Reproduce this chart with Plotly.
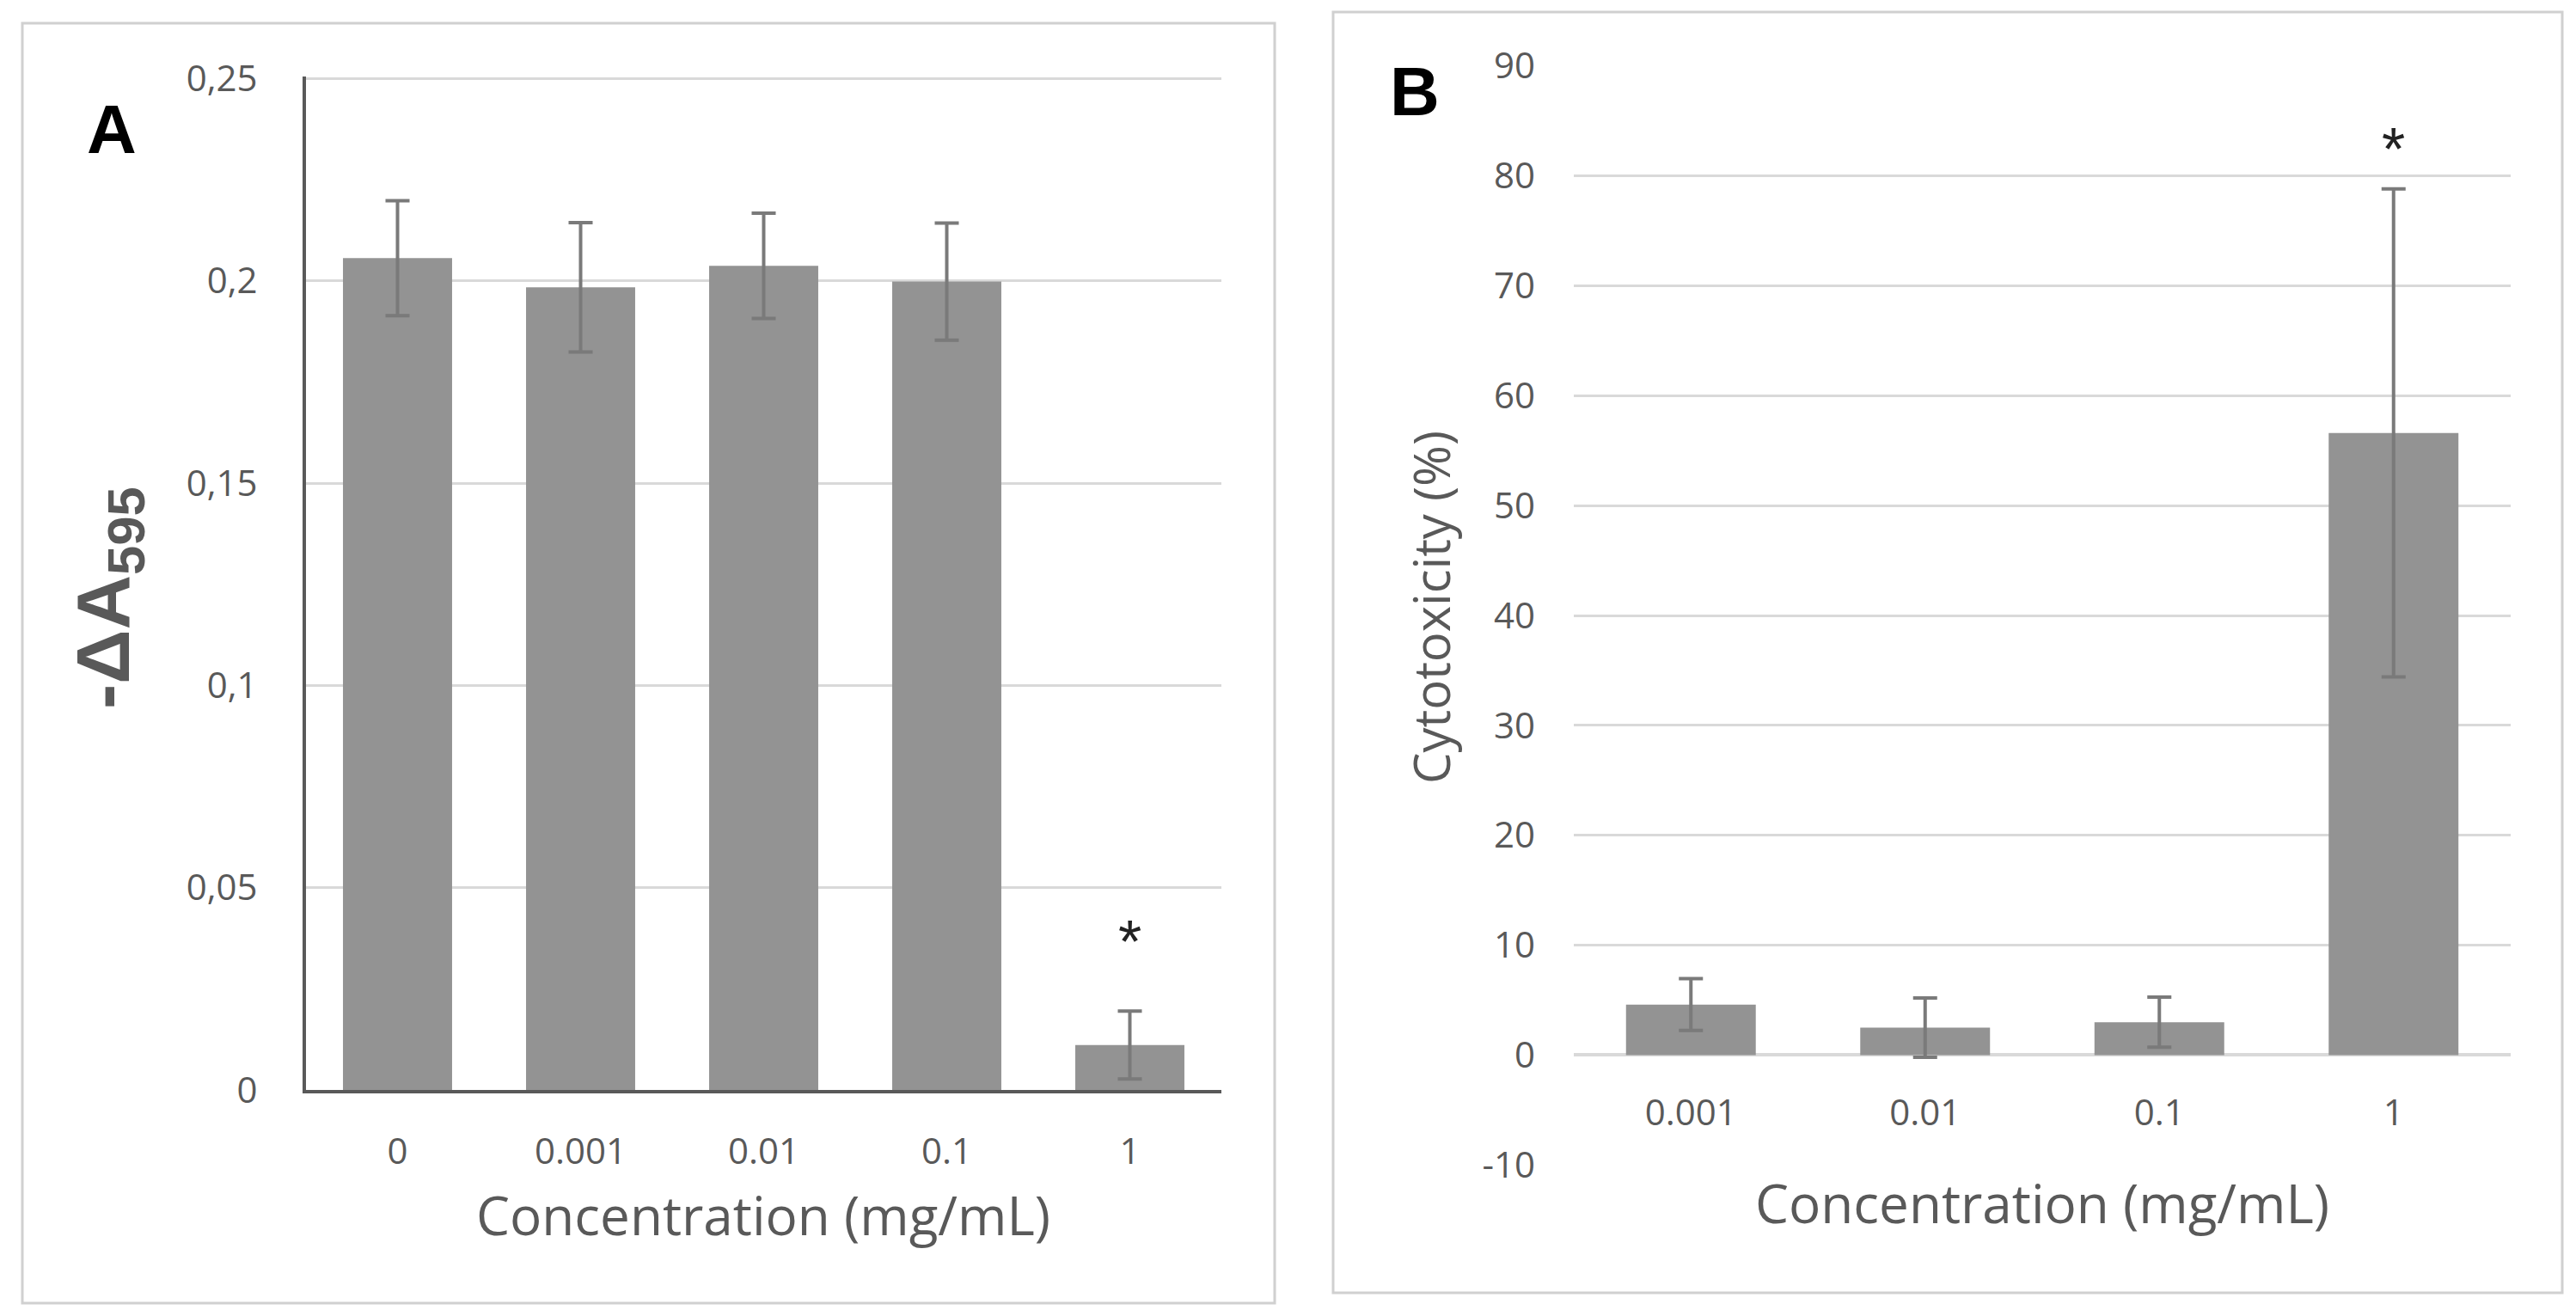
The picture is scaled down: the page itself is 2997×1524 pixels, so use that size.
import plotly.graph_objects as go

# ---------------- data ----------------
cats_A = ["0", "0.001", "0.01", "0.1", "1"]
vals_A = [0.2056, 0.1984, 0.2037, 0.1998, 0.0111]
err_A = [0.0142, 0.0160, 0.0130, 0.0145, 0.0084]
ticks_A = [0, 0.05, 0.1, 0.15, 0.2, 0.25]
ticktext_A = ["0", "0,05", "0,1", "0,15", "0,2", "0,25"]

cats_B = ["0.001", "0.01", "0.1", "1"]
vals_B = [4.6, 2.5, 3.0, 56.6]
err_B = [2.35, 2.7, 2.27, 22.2]
ticks_B = [-10, 0, 10, 20, 30, 40, 50, 60, 70, 80, 90]
ticktext_B = ["-10", "0", "10", "20", "30", "40", "50", "60", "70", "80", "90"]

W, H = 2997, 1524
def px(x):
    return x / W
def py(y):
    return 1 - y / H

BAR = "#939393"
ERR = "#7a7a7a"
GRID = "#d9d9d9"
TXT = "#595959"
FONT = "Open Sans"

fig = go.Figure()
fig.add_trace(go.Bar(x=cats_A, y=vals_A, width=0.596, marker=dict(color=BAR, line=dict(width=0)),
                     error_y=dict(type="data", array=err_A, visible=True, color=ERR, thickness=4, width=14),
                     xaxis="x", yaxis="y", showlegend=False, hoverinfo="skip"))
fig.add_trace(go.Bar(x=cats_B, y=vals_B, width=0.554, marker=dict(color=BAR, line=dict(width=0)),
                     error_y=dict(type="data", array=err_B, visible=True, color=ERR, thickness=4, width=14),
                     xaxis="x2", yaxis="y2", showlegend=False, hoverinfo="skip"))

tickfont = dict(family=FONT, size=42, color=TXT)

def ann(text, x, y, size, color=TXT, family=FONT, angle=0, xref="paper", yref="paper"):
    return dict(text=text, xref=xref, yref=yref, x=x, y=y, xanchor="center", yanchor="middle",
                showarrow=False, textangle=angle, font=dict(family=family, size=size, color=color))

fig.update_layout(
    template="none",
    width=W, height=H, margin=dict(l=0, r=0, t=0, b=0, pad=0), autosize=False,
    paper_bgcolor="white", plot_bgcolor="white", showlegend=False,
    xaxis=dict(domain=[px(348), px(1413)], anchor="y", type="category", automargin=False,
               showline=True, linecolor="#595959", linewidth=4, ticks="",
               showgrid=False, zeroline=False, tickfont=tickfont, ticklabelstandoff=32),
    yaxis=dict(domain=[py(1260), py(81)], anchor="x", range=[0, 0.2505], automargin=False,
               tickvals=ticks_A, ticktext=ticktext_A, showline=True, linecolor="#595959",
               linewidth=4, showgrid=True, gridcolor=GRID, gridwidth=3, zeroline=False,
               ticks="", tickfont=tickfont, ticklabelstandoff=44),
    xaxis2=dict(domain=[px(1823), px(2913)], anchor="free", position=py(1220), type="category",
                automargin=False, showline=False, ticks="", showgrid=False, zeroline=False,
                tickfont=tickfont, ticklabelstandoff=38),
    yaxis2=dict(domain=[py(1348), py(68)], anchor="x2", range=[-10.05, 90.05], automargin=False,
                tickvals=ticks_B, ticktext=ticktext_B, showline=False, showgrid=True,
                gridcolor=GRID, gridwidth=3, zeroline=True, zerolinecolor=GRID, zerolinewidth=4,
                ticks="", tickfont=tickfont, ticklabelstandoff=44),
    shapes=[
        dict(type="rect", xref="paper", yref="paper", x0=px(18), x1=px(1475), y0=py(1508), y1=py(19),
             line=dict(color="#d0d0d0", width=3), layer="below"),
        dict(type="rect", xref="paper", yref="paper", x0=px(1543), x1=px(2973), y0=py(1496), y1=py(6),
             line=dict(color="#d0d0d0", width=3), layer="below"),
    ],
    annotations=[
        ann("<b>A</b>", px(122), py(142), 80, "black", "Liberation Sans"),
        ann("<b>B</b>", px(1638), py(98), 80, "black", "Liberation Sans"),
        ann("<b>-ΔA<sub>595</sub></b>", px(118), py(688), 88, TXT, "Liberation Sans", -90),
        ann("Cytotoxicity (%)", px(1656), py(699), 58, TXT, FONT, -90),
        ann("Concentration (mg/mL)", px(880), py(1405), 62),
        ann("Concentration (mg/mL)", px(2368), py(1391), 62),
        ann("*", len(cats_A) - 1, vals_A[-1] + err_A[-1] + 0.017, 70, "#222222", "Liberation Sans",
            xref="x", yref="y"),
        ann("*", len(cats_B) - 1, vals_B[-1] + err_B[-1] + 3.6, 70, "#222222", "Liberation Sans",
            xref="x2", yref="y2"),
    ],
)

fig.write_html("out.html")
